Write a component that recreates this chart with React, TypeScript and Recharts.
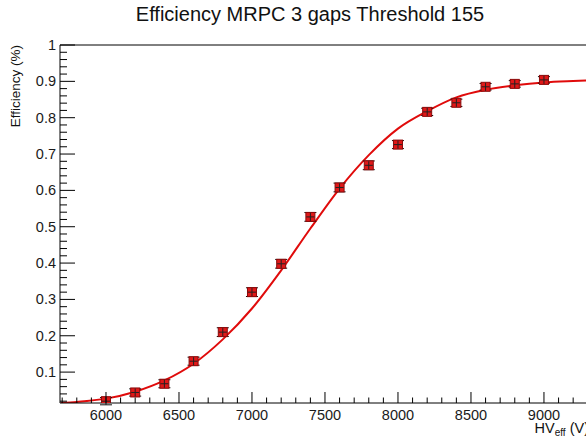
import React from "react";
import {
    ComposedChart,
    XAxis,
    YAxis,
    Line,
    Scatter,
    ErrorBar,
    ReferenceLine
} from "recharts";

// measured points
const hvPoints = [6000, 6200, 6400, 6600, 6800, 7000, 7200, 7400, 7600, 7800, 8000, 8200, 8400, 8600, 8800, 9000];
const effPoints = [0.020, 0.044, 0.068, 0.130, 0.210, 0.320, 0.398, 0.527, 0.608, 0.669, 0.726, 0.816, 0.841, 0.885, 0.893, 0.904];
const effErrors = [0.010, 0.010, 0.011, 0.011, 0.012, 0.012, 0.012, 0.012, 0.012, 0.012, 0.011, 0.010, 0.010, 0.009, 0.009, 0.009];

// fit curve
const fitHV = [5690, 5800, 6000, 6200, 6400, 6600, 6800, 7000, 7200, 7400, 7600, 7800, 8000, 8200, 8400, 8600, 8800, 9000, 9200, 9330];
const fitEff = [0.015, 0.018, 0.027, 0.046, 0.077, 0.123, 0.190, 0.275, 0.380, 0.495, 0.605, 0.697, 0.770, 0.818, 0.856, 0.877, 0.889, 0.897, 0.901, 0.903];

const xMajorTicks = [6000, 6500, 7000, 7500, 8000, 8500, 9000];
const xTicks = [5700, 5800, 5900, 6000, 6100, 6200, 6300, 6400, 6500, 6600, 6700, 6800, 6900, 7000, 7100, 7200, 7300, 7400, 7500, 7600, 7700, 7800, 7900, 8000, 8100, 8200, 8300, 8400, 8500, 8600, 8700, 8800, 8900, 9000, 9100, 9200, 9300];
const yMajorTicks = [0.1, 0.2, 0.3, 0.4, 0.5, 0.6, 0.7, 0.8, 0.9, 1];
const yTicks = [0.02, 0.04, 0.06, 0.08, 0.1, 0.12, 0.14, 0.16, 0.18, 0.2, 0.22, 0.24, 0.26, 0.28, 0.3, 0.32, 0.34, 0.36, 0.38, 0.4, 0.42, 0.44, 0.46, 0.48, 0.5, 0.52, 0.54, 0.56, 0.58, 0.6, 0.62, 0.64, 0.66, 0.68, 0.7, 0.72, 0.74, 0.76, 0.78, 0.8, 0.82, 0.84, 0.86, 0.88, 0.9, 0.92, 0.94, 0.96, 0.98, 1];

const X_MIN = 5685;
const X_MAX = 9329;
const Y_MIN = 0.015;
const Y_MAX = 1;

const FONT = "'Liberation Sans', Arial, Helvetica, sans-serif";

const pointData = hvPoints.map((hv, i) => ({ hv, eff: effPoints[i], err: effErrors[i] }));
const fitData = fitHV.map((hv, i) => ({ hv, fit: fitEff[i] }));

const isMajorY = (v: number) => yMajorTicks.some(m => Math.abs(m - v) < 1e-6);

const XTick = ({ x, y, payload }: any) => {
    const major = xMajorTicks.includes(payload.value);
    return (
        <g>
            <line x1={x} x2={x} y1={y} y2={y - (major ? 11 : 5.5)} stroke="#000" strokeWidth={1} />
            {major && (
                <text x={x} y={y + 17} textAnchor="middle" fontSize={14.5} fontFamily={FONT} fill="#1a1a1a">
                    {payload.value}
                </text>
            )}
        </g>
    );
};

const YTick = ({ x, y, payload }: any) => {
    const major = isMajorY(payload.value);
    return (
        <g>
            <line x1={x} x2={x + (major ? 15 : 7)} y1={y} y2={y} stroke="#000" strokeWidth={1} />
            {major && (
                <text x={x - 4} y={y + 5} textAnchor="end" fontSize={14.5} fontFamily={FONT} fill="#1a1a1a">
                    {Math.round(payload.value * 10) / 10}
                </text>
            )}
        </g>
    );
};

const Marker = ({ cx, cy }: any) => (
    <g>
        <rect x={cx - 4.5} y={cy - 4.5} width={9} height={9} fill="#e01818" stroke="#8c0a0a" strokeWidth={1} />
        <line x1={cx - 4} x2={cx + 4} y1={cy} y2={cy} stroke="#222" strokeWidth={1} />
        <line x1={cx} x2={cx} y1={cy - 4} y2={cy + 4} stroke="#222" strokeWidth={1} />
    </g>
);

export default function App() {
    return (
        <div style={{ position: "fixed", left: 0, top: 0, width: 586, height: 438, overflow: "hidden", background: "#fff" }}>
            <ComposedChart
                width={620}
                height={438}
                margin={{ top: 45, right: 28, left: 0, bottom: 0 }}
            >
                <XAxis
                    dataKey="hv"
                    type="number"
                    domain={[X_MIN, X_MAX]}
                    ticks={xTicks}
                    interval={0}
                    allowDataOverflow
                    height={35}
                    tickSize={0}
                    tickMargin={0}
                    tickLine={false}
                    axisLine={{ stroke: "#000", strokeWidth: 1 }}
                    tick={<XTick />}
                />
                <YAxis
                    type="number"
                    domain={[Y_MIN, Y_MAX]}
                    ticks={yTicks}
                    interval={0}
                    allowDataOverflow
                    width={60}
                    tickSize={0}
                    tickMargin={0}
                    tickLine={false}
                    axisLine={{ stroke: "#000", strokeWidth: 1 }}
                    tick={<YTick />}
                />
                <ReferenceLine y={Y_MAX} stroke="#000" strokeWidth={1} />
                <ReferenceLine x={X_MAX} stroke="#000" strokeWidth={1} />

                <Line
                    data={fitData}
                    dataKey="fit"
                    type="monotone"
                    stroke="#e00b0b"
                    strokeWidth={2}
                    dot={false}
                    activeDot={false}
                    isAnimationActive={false}
                />
                <Scatter
                    data={pointData}
                    dataKey="eff"
                    shape={<Marker />}
                    isAnimationActive={false}
                >
                    <ErrorBar dataKey="err" direction="y" width={6} stroke="#111" strokeWidth={1} />
                </Scatter>
            </ComposedChart>

            <svg width={586} height={438} style={{ position: "absolute", left: 0, top: 0, pointerEvents: "none" }}>
                <text x={310} y={21} textAnchor="middle" fontSize={20} fontFamily={FONT} fill="#111">
                    Efficiency MRPC 3 gaps Threshold 155
                </text>
                <text
                    x={20}
                    y={45}
                    transform="rotate(-90, 20, 45)"
                    textAnchor="end"
                    fontSize={13.5}
                    fontFamily={FONT}
                    fill="#111"
                >
                    Efficiency (%)
                </text>
                <text x={589} y={433} textAnchor="end" fontSize={14.5} fontFamily={FONT} fill="#111">
                    <tspan>HV</tspan>
                    <tspan fontSize={10} dy={3}>eff</tspan>
                    <tspan dy={-3}> (V)</tspan>
                </text>
            </svg>
        </div>
    );
}
